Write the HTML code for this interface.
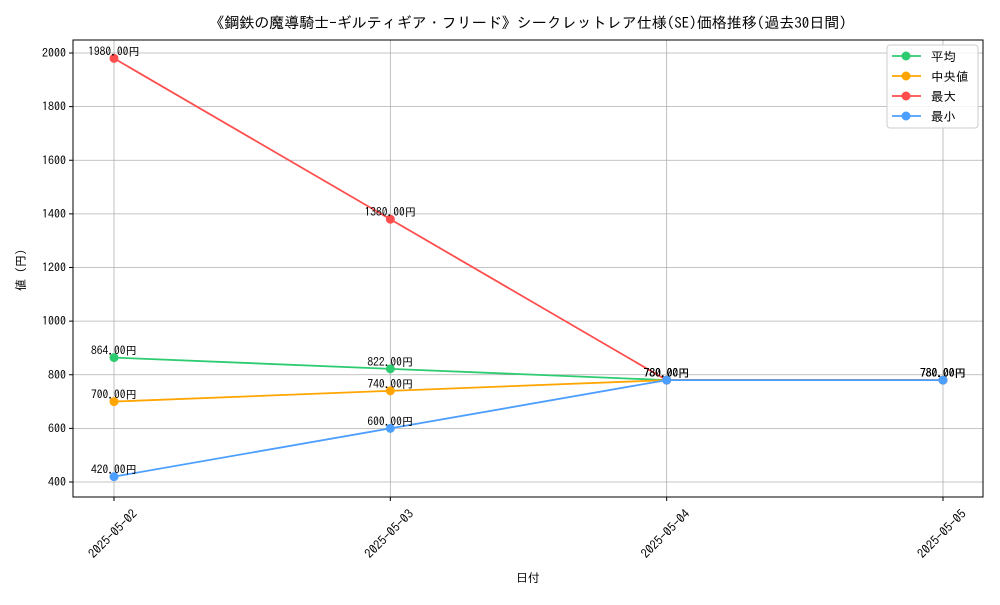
<!DOCTYPE html>
<html><head><meta charset="utf-8"><style>
body{margin:0;background:#fff;}
text{font-family:"IPAGothic","Liberation Sans","Noto Sans CJK JP",sans-serif;}
</style></head><body>
<svg id="c" width="1000" height="600" xmlns="http://www.w3.org/2000/svg"></svg>
<script>
const categories=["2025-05-02","2025-05-03","2025-05-04","2025-05-05"];
const avgVals=[864,822,780,780];
const medVals=[700,740,780,780];
const maxVals=[1980,1380,780,780];
const minVals=[420,600,780,780];
const yTicks=[400,600,800,1000,1200,1400,1600,1800,2000];
const seriesNames=["平均","中央値","最大","最小"];
const colors=["#2ecc71","#ffa500","#ff4d4d","#4d9fff"];
const series=[avgVals,medVals,maxVals,minVals];
const L=73,R=983,T=40,B=497;
const X=i=>114+i*(943-114)/(categories.length-1);
const Y=v=>482-(v-400)*(429/1600);
const svg=document.getElementById('c');
const NS="http://www.w3.org/2000/svg";
function mk(tag,attrs,name,txt){const e=document.createElementNS(NS,tag);for(const k in attrs)e.setAttribute(k,attrs[k]);


if(txt!==undefined)e.textContent=txt;svg.appendChild(e);return e;}
mk('text',{x:528,y:28,'text-anchor':'middle','font-size':15},'chart-title','《鋼鉄の魔導騎士-ギルティギア・フリード》シークレットレア仕様(SE)価格推移(過去30日間)');
yTicks.forEach(v=>{const y=Y(v);mk('line',{x1:L,x2:R,y1:y,y2:y,stroke:'#b0b0b0','stroke-width':0.8},'y-grid-line');
mk('line',{x1:L-4,x2:L,y1:y,y2:y,stroke:'#000'},'y-tick');
mk('text',{x:L-7,y:y+4,'text-anchor':'end','font-size':12},'y-tick-label',String(v));});
categories.forEach((c,i)=>{const x=X(i);mk('line',{x1:x,x2:x,y1:T,y2:B,stroke:'#b0b0b0','stroke-width':0.8},'x-grid-line');
mk('line',{x1:x,x2:x,y1:B,y2:B+4,stroke:'#000'},'x-tick');
const cx=x-1,cy=B+37;
mk('text',{x:cx,y:cy+4,'text-anchor':'middle','font-size':12.5,transform:`rotate(-45 ${cx} ${cy})`},'x-tick-label',c);});
mk('rect',{x:L,y:T,width:R-L,height:B-T,fill:'none',stroke:'#000','stroke-width':1},'plot-frame');
series.forEach((s,k)=>{mk('polyline',{points:s.map((v,i)=>X(i)+','+Y(v)).join(' '),fill:'none',stroke:colors[k],'stroke-width':1.8},'series-line-'+k);
s.forEach((v,i)=>{mk('circle',{cx:X(i),cy:Y(v),r:4.5,fill:colors[k]},'series-point');
mk('text',{x:X(i),y:Y(v)-3,'text-anchor':'middle','font-size':11.5},'value-label',v.toFixed(2)+'円');});});
mk('text',{x:528,y:582,'text-anchor':'middle','font-size':12},'x-axis-title','日付');
mk('text',{x:25,y:270,'text-anchor':'middle','font-size':12,transform:'rotate(-90 25 270)'},'y-axis-title','値 (円)');
mk('rect',{x:887,y:45,width:91,height:83,fill:'#fff','fill-opacity':0.85,stroke:'#ccc',rx:3},'legend');
seriesNames.forEach((n,k)=>{const y=56+k*20;mk('line',{x1:892,x2:921,y1:y,y2:y,stroke:colors[k],'stroke-width':1.8},'legend-line');
mk('circle',{cx:906,cy:y,r:4.5,fill:colors[k]},'legend-marker');
mk('text',{x:931,y:y+5,'font-size':12.5},'legend-entry',(k==1?' ':'')+n);});
</script>
</body></html>
